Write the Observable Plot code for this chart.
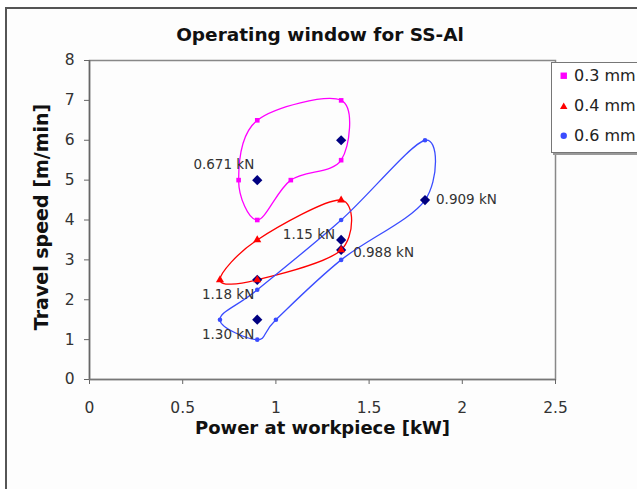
<!DOCTYPE html>
<html>
<head>
<meta charset="utf-8">
<script src="https://cdn.jsdelivr.net/npm/d3@7"></script>
<script src="https://cdn.jsdelivr.net/npm/@observablehq/plot@0.6"></script>
<style>
  html, body { margin: 0; padding: 0; background: #fff; overflow: hidden; }
  #wrap { position: relative; width: 637px; height: 489px; font-family: "DejaVu Sans", Arial, sans-serif; }
  #border { position: absolute; left: 5px; top: 7px; width: 700px; height: 600px; border-left: 2px solid #555; border-top: 2px solid #555; background: #fdfdfd; }
  #title { position: absolute; left: 0; width: 640px; top: 24px; text-align: center; font-weight: bold; font-size: 18.5px; color: #111; }
  #chart { position: absolute; left: 0; top: 0; }
  #legend { position: absolute; left: 551px; top: 62px; width: 110px; height: 89px; border: 1px solid #777; background: #fff; box-shadow: 2px 2px 0 #999; font-size: 16px; color: #222; }
  .item { position: absolute; left: 0; height: 20px; line-height: 20px; white-space: nowrap; }
  .item span.t { position: absolute; left: 22px; top: 0; }
  .item svg { position: absolute; left: 8px; top: 6px; }
</style>
</head>
<body>
<div id="wrap">
  <div id="border"></div>
  <div id="title">Operating window for SS-Al</div>
  <div id="chart"></div>
  <div id="legend"></div>
</div>
<script>
// ---- data ----
const seriesNames = ["0.3 mm", "0.4 mm", "0.6 mm"];
const s03x = [0.8, 0.9, 1.35, 1.35, 1.08, 0.9];
const s03y = [5.0, 6.5, 7.0, 5.5, 5.0, 4.0];
const s04x = [0.7, 0.9, 1.35, 1.35, 0.9];
const s04y = [2.5, 3.5, 4.5, 3.25, 2.5];
const s06x = [1.8, 1.8, 1.35, 1.0, 0.9, 0.7, 0.9, 1.35];
const s06y = [6.0, 4.5, 3.0, 1.5, 1.0, 1.5, 2.25, 4.0];
const forceX = [0.9, 1.35, 1.35, 1.35, 1.8, 0.9, 0.9];
const forceY = [5.0, 6.0, 3.5, 3.25, 4.5, 2.5, 1.5];
const forceLabels = ["0.671 kN", "", "1.15 kN", "0.988 kN", "0.909 kN", "1.18 kN", "1.30 kN"];
const xTicks = [0, 0.5, 1, 1.5, 2, 2.5];
const yTicks = [0, 1, 2, 3, 4, 5, 6, 7, 8];

// ---- styling ----
const FONT = "'DejaVu Sans', Arial, sans-serif";
const colors = ["#ff00ff", "#ff0000", "#3a4cff"];
const symbols = ["square", "triangle", "circle"];
const labelPlace = [
  {textAnchor: "end", dx: -3, dy: -15},
  null,
  {textAnchor: "end", dx: -6, dy: -5},
  {textAnchor: "start", dx: 12, dy: 3},
  {textAnchor: "start", dx: 11, dy: 0},
  {textAnchor: "end", dx: -3, dy: 15},
  {textAnchor: "end", dx: -3, dy: 15}
];

const zip = (xs, ys) => xs.map((x, i) => ({x, y: ys[i]}));
const s03 = zip(s03x, s03y), s04 = zip(s04x, s04y), s06 = zip(s06x, s06y);
const forces = forceX.map((x, i) => ({x, y: forceY[i], label: forceLabels[i], i}));

const labelMarks = forces.filter(d => d.label).map(d =>
  Plot.text([d], {x: "x", y: "y", text: "label", fontSize: 13.5, fill: "#333",
    fontFamily: FONT, ...labelPlace[d.i]}));

const curveOpts = {x: "x", y: "y", curve: "cardinal-closed", tension: 0, strokeWidth: 1.3};

const plot = Plot.plot({
  width: 637, height: 489,
  marginLeft: 89, marginRight: 82, marginTop: 60, marginBottom: 110,
  style: {background: "transparent", fontFamily: FONT},
  x: {domain: [0, 2.5]},
  y: {domain: [0, 8]},
  marks: [
    Plot.frame({stroke: "#888", strokeWidth: 1.5}),
    Plot.axisX({ticks: xTicks, tickFormat: d => String(d), tickSize: 5, tickPadding: 17, fontSize: 15.5, color: "#333", label: null, stroke: "#666"}),
    Plot.axisY({ticks: yTicks, tickFormat: d => String(d), tickSize: 5, tickPadding: 10, fontSize: 15.5, color: "#333", label: null, stroke: "#666"}),
    Plot.ruleX([0], {stroke: "#666", strokeWidth: 1.5}),
    Plot.ruleY([0], {stroke: "#777", strokeWidth: 1.5}),
    Plot.text(["Power at workpiece [kW]"], {frameAnchor: "bottom", dy: 54, fontSize: 18, fontWeight: "bold", fill: "#111"}),
    Plot.text(["Travel speed [m/min]"], {frameAnchor: "left", textAnchor: "middle", dx: -48, dy: -3, rotate: -90, fontSize: 19, fontWeight: "bold", fill: "#111"}),
    Plot.line(s03, {...curveOpts, stroke: colors[0]}),
    Plot.line(s04, {...curveOpts, stroke: colors[1]}),
    Plot.line(s06, {...curveOpts, stroke: colors[2]}),
    Plot.dot(s06, {x: "x", y: "y", symbol: symbols[2], r: 2.3, fill: colors[2]}),
    Plot.dot(forces, {x: "x", y: "y", symbol: "diamond2", r: 4.6, fill: "#000080"}),
    Plot.dot(s03, {x: "x", y: "y", symbol: symbols[0], r: 2.6, fill: colors[0]}),
    Plot.dot(s04, {x: "x", y: "y", symbol: symbols[1], r: 3, fill: colors[1]}),
    ...labelMarks
  ]
});
document.getElementById("chart").appendChild(plot);

// legend
const legend = document.getElementById("legend");
const shapes = [
  '<rect x="0" y="0" width="6" height="6"/>',
  '<polygon points="3,0 6.5,6 -0.5,6"/>',
  '<circle cx="3" cy="3" r="3"/>'
];
seriesNames.forEach((name, i) => {
  const div = document.createElement("div");
  div.className = "item";
  div.style.top = (3 + i * 30) + "px";
  div.innerHTML = `<svg width="8" height="8" viewBox="-0.5 -0.5 7.5 7.5" fill="${colors[i]}">${shapes[i]}</svg><span class="t">${name}</span>`;
  legend.appendChild(div);
});
</script>
</body>
</html>
